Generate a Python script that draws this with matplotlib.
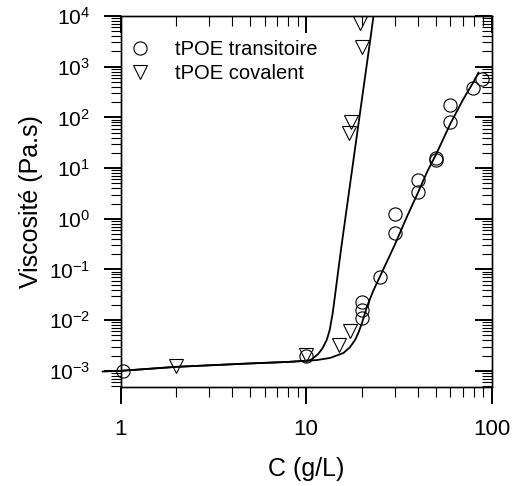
import numpy as np
import matplotlib
matplotlib.use('Agg')
import matplotlib.pyplot as plt
from matplotlib.ticker import LogLocator, FuncFormatter, NullFormatter

plt.rcParams['font.family'] = ['Liberation Sans', 'DejaVu Sans']
plt.rcParams['mathtext.fontset'] = 'custom'
plt.rcParams['mathtext.rm'] = 'Liberation Sans'

# measured points
c_trans = [1.03, 10, 20, 20, 20, 25, 30, 30, 40, 40, 50, 50, 60, 60, 79, 89]
eta_trans = [1.0e-3, 2.0e-3, 0.023, 0.016, 0.011, 0.072, 1.25, 0.53, 5.8, 3.3, 14.5, 16, 175, 82, 380, 580]

c_cov = [2, 10, 15, 17.3, 17.1, 17.4, 20, 19.6]
eta_cov = [1.22e-3, 2.05e-3, 3.2e-3, 6.2e-3, 49, 82, 2500, 7400]

# fitted curves
fit_c_trans = [0.8, 1, 2, 5, 8, 10, 11.4, 13.5, 15.9, 17.2, 18.4, 19.2, 20, 21.3, 23.1,
               25, 30, 35, 40, 45, 50, 60, 70, 80, 85]
fit_eta_trans = [9.7e-4, 1.0e-3, 1.2e-3, 1.4e-3, 1.5e-3, 1.58e-3, 1.63e-3, 1.8e-3, 2.25e-3,
                 2.9e-3, 4.1e-3, 5.8e-3, 8.7e-3, 0.0185, 0.039,
                 0.072, 0.30, 1.1, 3.2, 8.5, 18, 75, 220, 500, 760]

fit_c_cov = [0.8, 1, 2, 5, 8, 10, 10.5, 10.79, 11.62, 12.29, 12.92, 13.41, 13.92, 14.45,
             15.41, 18.16, 20.21, 22.05, 23.1]
fit_eta_cov = [9.7e-4, 1.0e-3, 1.2e-3, 1.4e-3, 1.5e-3, 1.58e-3, 1.62e-3, 1.72e-3, 2.15e-3,
               2.83e-3, 4.07e-3, 6.41e-3, 0.0139, 0.0394,
               0.242, 18.1, 299, 2894, 1e4]

xlims = (1, 100)
ylims = (4.8e-4, 1e4)

fig = plt.figure(figsize=(5.12, 4.86), dpi=100)
ax = fig.add_axes([0.2357, 0.2037, 0.7243, 0.7634])

ax.plot(fit_c_trans, fit_eta_trans, color='black', lw=1.3, clip_on=False, zorder=3)
ax.plot(fit_c_cov, fit_eta_cov, color='black', lw=1.3, zorder=3)

ax.plot(c_trans, eta_trans, 'o', ms=9.5, mfc='none', mec='black', mew=0.8,
        label='tPOE transitoire', clip_on=False, zorder=4)
ax.plot(c_cov, eta_cov, 'v', ms=10, mfc='none', mec='black', mew=0.8,
        label='tPOE covalent', clip_on=False, zorder=4)

ax.set_xscale('log')
ax.set_yscale('log')
ax.set_xlim(*xlims)
ax.set_ylim(*ylims)

def dec_fmt(v, pos):
    e = int(round(np.log10(v)))
    return r'$\mathregular{10^{%d}}$' % e

ax.xaxis.set_major_locator(LogLocator(base=10, numticks=10))
ax.xaxis.set_minor_locator(LogLocator(base=10, subs=np.arange(2, 10), numticks=20))
ax.xaxis.set_major_formatter(FuncFormatter(lambda v, p: '%g' % v))
ax.xaxis.set_minor_formatter(NullFormatter())
ax.yaxis.set_major_locator(LogLocator(base=10, numticks=20))
ax.yaxis.set_minor_locator(LogLocator(base=10, subs=np.arange(2, 10), numticks=40))
ax.yaxis.set_major_formatter(FuncFormatter(dec_fmt))
ax.yaxis.set_minor_formatter(NullFormatter())

ax.tick_params(which='major', direction='out', length=12, width=1.4)
ax.tick_params(which='minor', direction='out', length=7, width=0.8)
ax.tick_params(axis='x', which='major', labelsize=16, pad=11)
ax.tick_params(axis='y', which='major', labelsize=15, pad=10)

# inward ticks on top and right
axt = ax.twiny()
axt.set_xscale('log')
axt.set_xlim(*xlims)
axt.xaxis.set_major_locator(LogLocator(base=10, numticks=10))
axt.xaxis.set_minor_locator(LogLocator(base=10, subs=np.arange(2, 10), numticks=20))
axt.tick_params(which='major', direction='in', length=12, width=1.4, labeltop=False)
axt.tick_params(which='minor', direction='in', length=7, width=0.8)
axt.xaxis.set_minor_formatter(NullFormatter())

axr = ax.twinx()
axr.set_yscale('log')
axr.set_ylim(*ylims)
axr.yaxis.set_major_locator(LogLocator(base=10, numticks=20))
axr.yaxis.set_minor_locator(LogLocator(base=10, subs=np.arange(2, 10), numticks=40))
axr.tick_params(which='major', direction='in', length=12, width=1.4, labelright=False)
axr.tick_params(which='minor', direction='in', length=7, width=0.8)
axr.yaxis.set_minor_formatter(NullFormatter())

for a in (ax, axt, axr):
    for s in a.spines.values():
        s.set_linewidth(0.9)

ax.set_xlabel('C (g/L)', fontsize=18, labelpad=12)
ax.set_ylabel('Viscosité (Pa.s)', fontsize=18, labelpad=4)

ax.legend(loc='upper left', bbox_to_anchor=(0, 0.947), frameon=False, fontsize=14.5,
          handlelength=1.5, handletextpad=1.0, labelspacing=0.25,
          borderaxespad=0, borderpad=0.2)

fig.savefig('out.png', dpi=100)
